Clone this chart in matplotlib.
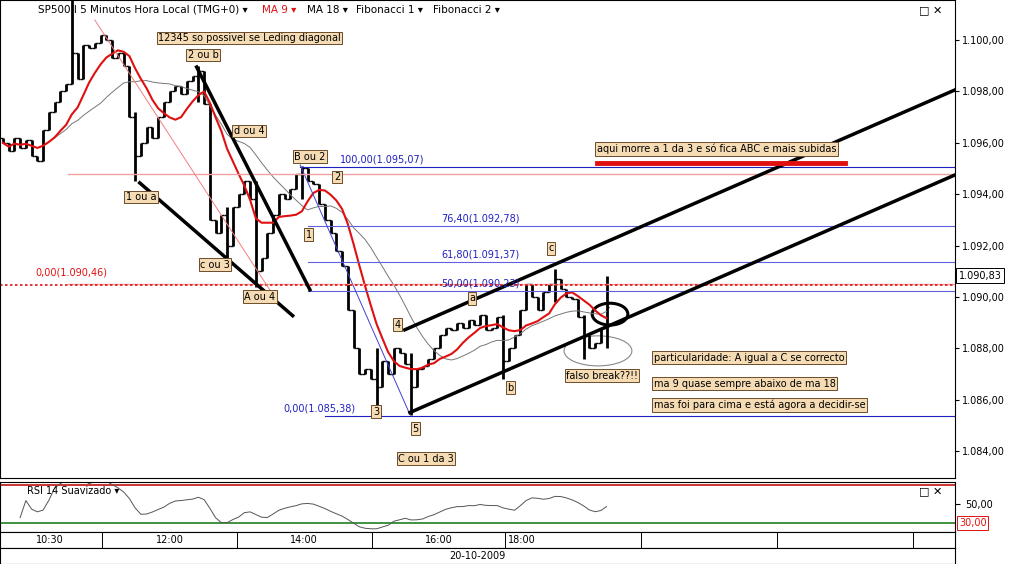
import matplotlib
matplotlib.use("Agg")
import matplotlib.pyplot as plt
import numpy as np
import pandas as pd
from matplotlib.patches import Ellipse

# 5-minute closes, SP500.I, 20-10-2009
closes = [
    1.0960, 1.0957, 1.0962, 1.0958, 1.0961, 1.0955, 1.0953, 1.0965, 1.0972, 1.0976,
    1.0980, 1.0983, 1.0995, 1.0985, 1.0998, 1.0997, 1.0999, 1.1002, 1.1000, 1.0993,
    1.0995, 1.0990, 1.0970, 1.0955, 1.0960, 1.0966, 1.0962, 1.0970, 1.0976, 1.0980,
    1.0982, 1.0979, 1.0984, 1.0986, 1.0988, 1.0975, 1.0930, 1.0925, 1.0932, 1.0920,
    1.0935, 1.0940, 1.0945, 1.0938, 1.0910, 1.0915, 1.0925, 1.0932, 1.0940, 1.0938,
    1.0942, 1.0948, 1.0950, 1.0945, 1.0944, 1.0936, 1.0930, 1.0925, 1.0918, 1.0912,
    1.0895, 1.0880, 1.0870, 1.0872, 1.0868, 1.0865, 1.0875, 1.0870, 1.0880, 1.0878,
    1.0874, 1.0865, 1.0872, 1.0873, 1.0876, 1.0880, 1.0885, 1.0888, 1.0887, 1.0890,
    1.0888, 1.0891, 1.0889, 1.0893, 1.0887, 1.0888, 1.0892, 1.0875, 1.0880, 1.0885,
    1.0895, 1.0905, 1.0900, 1.0895, 1.0902, 1.0905, 1.0907, 1.0903, 1.0900, 1.0899,
    1.0892, 1.0885, 1.0880, 1.0882, 1.0888, 1.0896,
]
first_open = 1.0962
# bars whose wick reaches well beyond open/close: index -> (high, low)
extremes = {
    12: (1.1016, 1.0983), 23: (1.0972, 1.0945), 34: (1.0990, 1.0976),
    39: (1.0935, 1.0911), 44: (1.0945, 1.0904), 52: (1.0951, 1.0938),
    65: (1.0880, 1.0858), 71: (1.0878, 1.0854), 87: (1.0893, 1.0868),
    96: (1.0911, 1.0898), 101: (1.0893, 1.0876), 105: (1.0908, 1.0880),
}

time_labels = ["10:30", "12:00", "14:00", "16:00", "18:00"]
time_pos = [8.2, 29.0, 52.4, 75.8, 90.3]
sep_pos = [17.2, 40.7, 64.2, 87.3, 111.0, 134.6, 158.3]
price_ticks = [1.084, 1.086, 1.088, 1.090, 1.092, 1.094, 1.096, 1.098, 1.100]

fib_levels = [1.09507, 1.09278, 1.09137, 1.09023, 1.08538]
fib_labels = ["100,00(1.095,07)", "76,40(1.092,78)", "61,80(1.091,37)",
              "50,00(1.090,23)", "0,00(1.085,38)"]

BOX = dict(boxstyle="square,pad=0.15", fc="#f6dcb4", ec="#6b4b2a", lw=0.7)
FS = 7

c = np.array(closes)
o = np.concatenate([[first_open], c[:-1]])
hi = np.maximum(o, c)
lo = np.minimum(o, c)
for i, (h, l) in extremes.items():
  hi[i], lo[i] = h, l
x = np.arange(len(c))
ma9 = pd.Series(c).rolling(9, min_periods=1).mean()
ma18 = pd.Series(c).rolling(18, min_periods=1).mean()

fig = plt.figure(figsize=(10.15, 5.64), dpi=100)
W, H = 1015, 564
ax = fig.add_axes([0, 86 / H, 955 / W, 478 / H])
ax.set_xlim(-0.5, 165.6)
ax.set_ylim(1.08295, 1.10156)

# price bars
ax.vlines(x, lo, hi, color="black", lw=2.0)
ax.hlines(o, x - 0.5, x, color="black", lw=1.0)
ax.hlines(c, x, x + 0.5, color="black", lw=1.0)
ax.plot(x, ma18, color="#777777", lw=0.7)
ax.plot(x, ma9, color="#e01010", lw=1.5)

# fibonacci / reference lines
ax.plot([51.7, 165.6], [fib_levels[0]] * 2, color="#2020c0", lw=0.8)
for lvl in fib_levels[1:4]:
  ax.plot([53.0, 165.6], [lvl] * 2, color="#6060e0", lw=0.8)
ax.plot([56.0, 165.6], [fib_levels[4]] * 2, color="#2020c0", lw=0.8)
for lvl, lab, px in zip(fib_levels, fib_labels, [66, 83, 83, 83, 55]):
  ax.text(px, lvl + 0.00008, lab, color="#2020c0", fontsize=FS, ha="center", va="bottom")
ax.plot([51.7, 70.8], [1.09514, 1.08542], color="#4040d0", lw=0.7)
ax.plot([11.3, 165.6], [1.0948, 1.0948], color="#f0a0a0", lw=1.0)
ax.plot([11.3, 165.6], [1.0905, 1.0905], color="#f0a0a0", lw=1.0)
ax.plot([-0.5, 165.6], [1.09046, 1.09046], color="#e01010", lw=1.2, ls=(0, (1.5, 1.5)))
ax.text(12, 1.09094, "0,00(1.090,46)", color="#e01010", fontsize=FS, ha="center", va="center")
ax.plot([16, 46.4], [1.10078, 1.09028], color="#f08080", lw=0.7)

# trend lines
ax.plot([23.8, 50.4], [1.09444, 1.08927], color="black", lw=2.5)
ax.plot([33.7, 53.4], [1.09895, 1.09028], color="black", lw=2.5)
ax.plot([69.9, 165.6], [1.08872, 1.09806], color="black", lw=2.5)
ax.plot([70.8, 165.6], [1.0855, 1.09475], color="black", lw=2.5)
ax.plot([103.3, 146.5], [1.0952, 1.0952], color="#e01010", lw=3.5)
ax.add_patch(Ellipse((105.6, 1.08933), 6.2, 0.00085, fill=False, ec="black", lw=2.2))
ax.add_patch(Ellipse((103.5, 1.0879), 11.8, 0.00117, fill=False, ec="#888888", lw=0.8))

notes = [
    (27.0, 1.10008, "12345 so possivel se Leding diagonal", "left"),
    (34.8, 1.09942, "2 ou b", "center"), (42.8, 1.09646, "d ou 4", "center"),
    (24.0, 1.09389, "1 ou a", "center"), (36.9, 1.09125, "c ou 3", "center"),
    (44.7, 1.0900, "A ou 4", "center"), (53.4, 1.09545, "B ou 2", "center"),
    (58.1, 1.09467, "2", "center"), (53.2, 1.09242, "1", "center"),
    (68.7, 1.08892, "4", "center"), (64.9, 1.08553, "3", "center"),
    (71.7, 1.08487, "5", "center"), (73.6, 1.0837, "C ou 1 da 3", "center"),
    (81.6, 1.08995, "a", "center"), (88.3, 1.08646, "b", "center"),
    (95.3, 1.0919, "c", "center"), (104.2, 1.08693, "falso break??!!", "center"),
    (103.3, 1.09576, "aqui morre a 1 da 3 e só fica ABC e mais subidas", "left"),
    (113.2, 1.08763, "particularidade: A igual a C se correcto", "left"),
    (113.2, 1.08662, "ma 9 quase sempre abaixo de ma 18", "left"),
    (113.2, 1.0858, "mas foi para cima e está agora a decidir-se", "left"),
]
for nx, ny, s, ha in notes:
  ax.text(nx, ny, s, fontsize=FS, ha=ha, va="center", bbox=BOX)

# header
ax.text(0.04, 0.99, "SP500.I 5 Minutos Hora Local (TMG+0) ▾", transform=ax.transAxes,
        fontsize=FS + 0.5, va="top")
for px, s, col in [(262, "MA 9 ▾", "#e01010"), (307, "MA 18 ▾", "black"),
                   (356, "Fibonacci 1 ▾", "black"), (433, "Fibonacci 2 ▾", "black")]:
  ax.text(px / 955, 0.99, s, transform=ax.transAxes, fontsize=FS + 0.5, va="top", color=col)
ax.text(0.975, 0.99, "□ ✕", transform=ax.transAxes, fontsize=FS + 1, va="top", ha="center")

ax.yaxis.tick_right()
ax.set_yticks(price_ticks)
ax.set_yticklabels([f"{p:.3f},00" for p in price_ticks], fontsize=FS)
ax.set_xticks([])
ax.tick_params(axis="y", length=3, pad=2)
ax.text(1.004, 1.09083, "1.090,83", transform=ax.get_yaxis_transform(), fontsize=FS,
        va="center", bbox=dict(boxstyle="square,pad=0.25", fc="white", ec="black", lw=0.7))

# RSI panel
delta = np.diff(c, prepend=c[0])
up = pd.Series(np.clip(delta, 0, None)).ewm(alpha=1 / 14).mean()
dn = pd.Series(np.clip(-delta, 0, None)).ewm(alpha=1 / 14).mean()
rsi = (100 - 100 / (1 + up / (dn + 1e-12))).rolling(3, min_periods=1).mean()
rx = fig.add_axes([0, 32 / H, 955 / W, 50 / H])
rx.set_xlim(-0.5, 165.6)
rx.set_ylim(20, 73)
rx.axhline(70, color="#c01010", lw=1.2)
rx.axhline(30, color="#208020", lw=1.2)
rx.plot(x[3:], rsi[3:], color="#555555", lw=0.7)
rx.text(0.028, 0.92, "RSI 14 Suavizado ▾", transform=rx.transAxes, fontsize=FS, va="top")
rx.text(0.975, 0.92, "□ ✕", transform=rx.transAxes, fontsize=FS + 1, va="top", ha="center")
rx.yaxis.tick_right()
rx.set_yticks([50])
rx.set_yticklabels(["50,00"], fontsize=FS)
rx.set_xticks([])
rx.text(1.004, 30, "30,00", transform=rx.get_yaxis_transform(), fontsize=FS, va="center",
        color="#e01010", bbox=dict(boxstyle="square,pad=0.2", fc="white", ec="#e01010", lw=0.7))

# time strip
tx = fig.add_axes([0, 16 / H, 955 / W, 16 / H])
tx.set_xlim(-0.5, 165.6)
tx.set_ylim(0, 1)
for sp in sep_pos:
  tx.axvline(sp, color="black", lw=0.7)
for tp, tl in zip(time_pos, time_labels):
  tx.text(tp, 0.5, tl, fontsize=FS, ha="center", va="center")
tx.set_xticks([])
tx.set_yticks([])
dx = fig.add_axes([0, 0, 955 / W, 16 / H])
dx.text(0.5, 0.5, "20-10-2009", fontsize=FS, ha="center", va="center", transform=dx.transAxes)
dx.set_xticks([])
dx.set_yticks([])

fig.savefig("out.png", dpi=100)
